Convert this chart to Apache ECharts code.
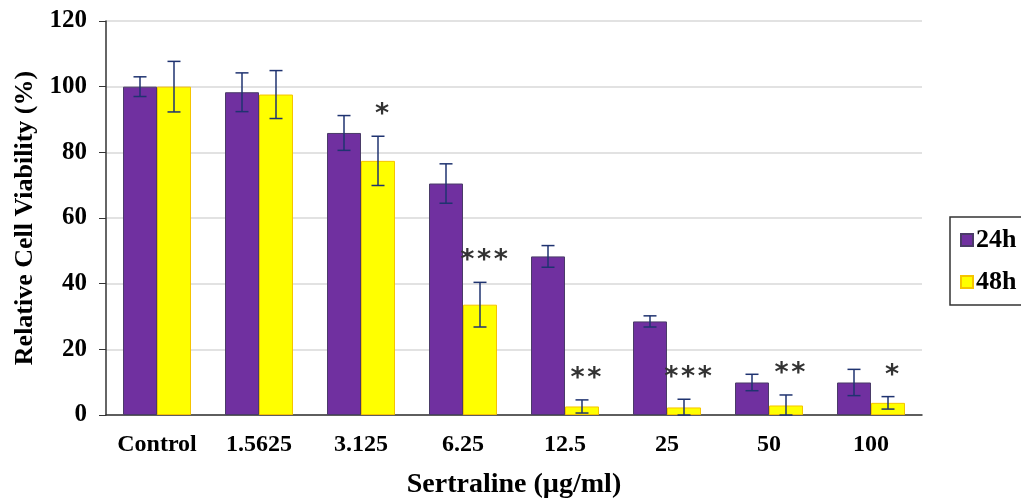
<!DOCTYPE html>
<html>
<head>
<meta charset="utf-8">
<script src="https://cdn.jsdelivr.net/npm/echarts@6/dist/echarts.min.js"></script>
<style>
  html, body { margin: 0; padding: 0; background: #fff; }
  #chart { width: 1021px; height: 498px; }
</style>
</head>
<body>
<div id="chart"></div>
<script>
  // 数据
  var categories = ['Control', '1.5625', '3.125', '6.25', '12.5', '25', '50', '100']
  var values24h = [100, 98.3, 85.9, 70.5, 48.3, 28.5, 9.9, 9.9]
  var err24h = [3, 5.9, 5.3, 6, 3.3, 1.7, 2.5, 4]
  var values48h = [100, 97.6, 77.4, 33.6, 2.6, 2.3, 2.9, 3.7]
  var err48h = [7.7, 7.3, 7.5, 6.8, 2, 2.5, 3.2, 1.9]
  var stars48h = ['', '', '*', '***', '**', '***', '**', '*']
  var yTicks = { min: 0, max: 120, interval: 20 }

  var serif = '"Liberation Serif", "Times New Roman", serif'
  var barW = 34
  var errColor = '#1f3370'

  var myChart = echarts.init(document.getElementById('chart'))

  // 误差棒
  function errorSeries (vals, errs, offset) {
    return {
      type: 'custom',
      z: 10,
      silent: true,
      data: vals.map(function (v, i) { return [i, v, errs[i]] }),
      renderItem: function (params, api) {
        var i = api.value(0)
        var v = api.value(1)
        var e = api.value(2)
        var top = api.coord([i, v + e])
        var bot = api.coord([i, Math.max(v - e, 0)])
        var x = top[0] + offset
        var cap = 6.5
        var style = { stroke: errColor, lineWidth: 1.5 }
        return {
          type: 'group',
          children: [
            { type: 'line', shape: { x1: x, y1: top[1], x2: x, y2: bot[1] }, style: style },
            { type: 'line', shape: { x1: x - cap, y1: top[1], x2: x + cap, y2: top[1] }, style: style },
            { type: 'line', shape: { x1: x - cap, y1: bot[1], x2: x + cap, y2: bot[1] }, style: style }
          ]
        }
      }
    }
  }

  // 显著性星号
  var starSeries = {
    type: 'custom',
    z: 11,
    silent: true,
    data: values48h.map(function (v, i) { return [i, v + err48h[i], stars48h[i]] }),
    renderItem: function (params, api) {
      var i = api.value(0)
      var p = api.coord([i, api.value(1)])
      return {
        type: 'text',
        x: p[0] + barW / 2 + 4,
        y: p[1] - 21,
        style: {
          text: stars48h[i].split('').join('\u200a'),
          fill: '#333',
          font: 'bold 27px "DejaVu Sans", sans-serif',
          align: 'center',
          verticalAlign: 'middle'
        }
      }
    }
  }

  var option = {
    animation: false,
    grid: { left: 106, right: 99, top: 21, bottom: 83, outerBoundsMode: 'none' },
    legend: {
      left: 950,
      top: 217,
      orient: 'vertical',
      icon: 'rect',
      itemWidth: 12,
      itemHeight: 12,
      itemGap: 16,
      padding: [10, 40, 10, 10],
      borderColor: '#333',
      borderWidth: 1.5,
      textStyle: { fontFamily: serif, fontWeight: 'bold', fontSize: 26, color: '#000', padding: [0, 0, 0, -2] },
      data: ['24h', '48h']
    },
    xAxis: {
      type: 'category',
      data: categories,
      axisLine: { lineStyle: { color: '#333', width: 1.5 } },
      axisTick: { alignWithLabel: true, length: 6, lineStyle: { color: '#333' } },
      axisLabel: { interval: 0, fontFamily: serif, fontWeight: 'bold', fontSize: 24, color: '#000', margin: 18 },
      name: 'Sertraline (µg/ml)',
      nameLocation: 'middle',
      nameGap: 56,
      nameTextStyle: { fontFamily: serif, fontWeight: 'bold', fontSize: 28, color: '#000' }
    },
    yAxis: {
      type: 'value',
      min: yTicks.min,
      max: yTicks.max,
      interval: yTicks.interval,
      axisLine: { show: true, lineStyle: { color: '#333', width: 1.5 } },
      axisTick: { show: true, length: 7, lineStyle: { color: '#333' } },
      axisLabel: { fontFamily: serif, fontWeight: 'bold', fontSize: 25, color: '#000', margin: 19 },
      splitLine: { lineStyle: { color: '#d9d9d9', width: 1.5 } },
      name: 'Relative Cell Viability (%)',
      nameLocation: 'middle',
      nameGap: 63,
      nameTextStyle: { fontFamily: serif, fontWeight: 'bold', fontSize: 26, color: '#000' }
    },
    series: [
      {
        name: '24h',
        type: 'bar',
        barWidth: barW,
        barGap: '0%',
        data: values24h,
        itemStyle: { color: '#7030a0', borderColor: '#4a3b68', borderWidth: 1 }
      },
      {
        name: '48h',
        type: 'bar',
        barWidth: barW,
        barGap: '0%',
        data: values48h,
        itemStyle: { color: '#ffff00', borderColor: '#f5c400', borderWidth: 1 }
      },
      errorSeries(values24h, err24h, -barW / 2),
      errorSeries(values48h, err48h, barW / 2),
      starSeries
    ]
  }

  myChart.setOption(option)
</script>
</body>
</html>
